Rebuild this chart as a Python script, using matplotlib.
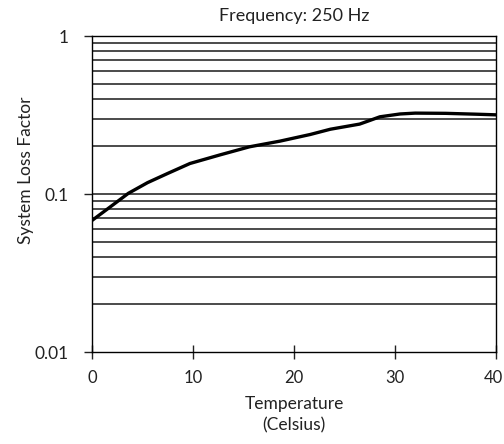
import matplotlib
matplotlib.use("Agg")
import matplotlib.pyplot as plt
import matplotlib.transforms as mtrans
import numpy as np
from matplotlib.ticker import FixedLocator, NullFormatter

# curve
temp = [0, 1.6, 3.6, 5.5, 7.5, 9.7, 12.7, 15.6, 18.6, 21.6, 23.6, 26.5,
        27.5, 28.5, 30.5, 32, 35, 38, 40]
loss = [0.068, 0.081, 0.101, 0.118, 0.135, 0.156, 0.177, 0.199, 0.216,
        0.238, 0.257, 0.277, 0.292, 0.308, 0.321, 0.325, 0.324, 0.320, 0.317]
x_ticks = [0, 10, 20, 30, 40]
y_ticks = [0.01, 0.1, 1]
y_labels = ["0.01", "0.1", "1"]

plt.rcParams["font.family"] = ["Lato", "DejaVu Sans"]
plt.rcParams["font.size"] = 12.5

fig = plt.figure(figsize=(5.04, 4.44), dpi=100)
ax = fig.add_axes([92 / 504, 1 - 352 / 444, 404 / 504, 316 / 444])

ax.set_yscale("log")
ax.set_xlim(0, 40)
ax.set_ylim(0.01, 1)

# horizontal grid on every log subdivision
grid_vals = [m * 10.0 ** e for e in (-2, -1) for m in range(2, 10)] + [0.1, 1]
for g in grid_vals:
    ax.axhline(g, color="#1a1a1a", lw=1.1, zorder=1)

ax.plot(temp, loss, color="black", lw=2.4, zorder=3,
        solid_joinstyle="round", solid_capstyle="round")

ax.set_xticks(x_ticks)
ax.set_yticks(y_ticks)
ax.set_yticklabels(y_labels)
ax.yaxis.set_minor_locator(FixedLocator([]))
ax.yaxis.set_minor_formatter(NullFormatter())
ax.tick_params(axis="x", direction="inout", length=10, width=1, pad=8,
               colors="#222222", labelsize=12)
ax.tick_params(axis="y", direction="out", length=6, width=1, pad=11,
               colors="#222222")

# keep the "40" inside the picture
last = ax.get_xticklabels()[-1]
last.set_transform(last.get_transform() +
                   mtrans.ScaledTranslation(-3 / 100, 0, fig.dpi_scale_trans))

for s in ax.spines.values():
    s.set_linewidth(1)
    s.set_color("black")

ax.set_title("Frequency: 250 Hz", fontsize=13, pad=11, color="#222222")
ax.set_xlabel("Temperature\n(Celsius)", labelpad=7, color="#222222",
              linespacing=1.4)
ax.set_ylabel("System Loss Factor", color="#222222")
ax.yaxis.set_label_coords(-0.143, 0.575)

fig.savefig("out.png", dpi=100)
